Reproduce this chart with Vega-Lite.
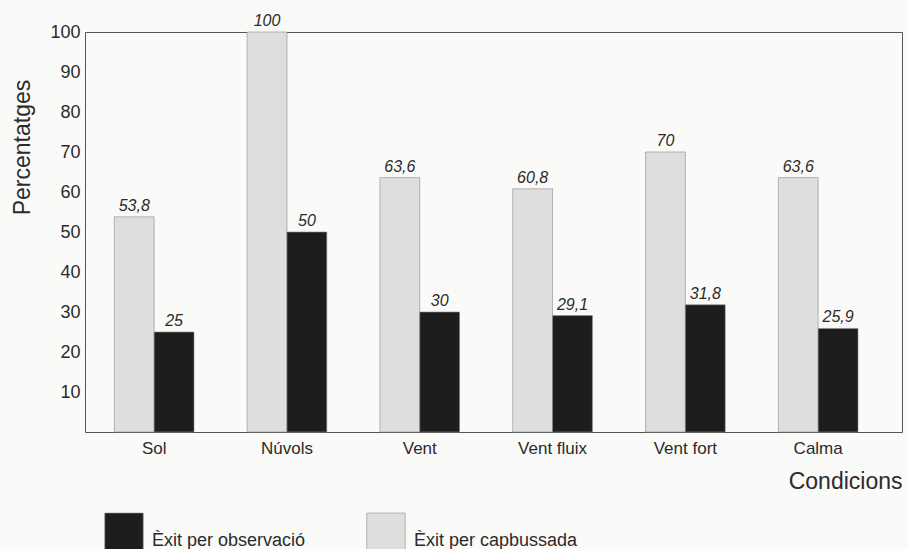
{
  "$schema": "https://vega.github.io/schema/vega-lite/v6.json",
  "width": 817,
  "height": 400,
  "autosize": {"type": "none"},
  "padding": {"left": 85, "top": 32, "right": 6, "bottom": 117},
  "background": "#fafaf8",
  "config": {
    "locale": {"number": {"decimal": ",", "thousands": ".", "grouping": [3], "currency": ["", " €"]}},
    "view": {"stroke": "#555555", "strokeWidth": 1},
    "font": "Liberation Sans",
    "axis": {"grid": false, "ticks": false, "domain": false, "labelColor": "#2b2b2b", "titleColor": "#2b2b2b", "titleFontWeight": "normal"}
  },
  "data": {
    "values": [
      {"condicio": "Sol", "serie": "Èxit per capbussada", "percentatge": 53.8},
      {"condicio": "Sol", "serie": "Èxit per observació", "percentatge": 25},
      {"condicio": "Núvols", "serie": "Èxit per capbussada", "percentatge": 100},
      {"condicio": "Núvols", "serie": "Èxit per observació", "percentatge": 50},
      {"condicio": "Vent", "serie": "Èxit per capbussada", "percentatge": 63.6},
      {"condicio": "Vent", "serie": "Èxit per observació", "percentatge": 30},
      {"condicio": "Vent fluix", "serie": "Èxit per capbussada", "percentatge": 60.8},
      {"condicio": "Vent fluix", "serie": "Èxit per observació", "percentatge": 29.1},
      {"condicio": "Vent fort", "serie": "Èxit per capbussada", "percentatge": 70},
      {"condicio": "Vent fort", "serie": "Èxit per observació", "percentatge": 31.8},
      {"condicio": "Calma", "serie": "Èxit per capbussada", "percentatge": 63.6},
      {"condicio": "Calma", "serie": "Èxit per observació", "percentatge": 25.9}
    ]
  },
  "encoding": {
    "x": {
      "field": "condicio",
      "type": "nominal",
      "sort": null,
      "scale": {"paddingInner": 0.4, "paddingOuter": 0.276, "align": 0.4},
      "axis": {
        "labelAngle": 0,
        "labelFontSize": 17,
        "labelPadding": 8,
        "title": "Condicions",
        "titleFontSize": 23,
        "titleAnchor": "end",
        "titleY": 56,
        "titleBaseline": "alphabetic"
      }
    },
    "xOffset": {
      "field": "serie",
      "type": "nominal",
      "scale": {"domain": ["Èxit per capbussada", "Èxit per observació"], "paddingInner": 0, "paddingOuter": 0}
    },
    "y": {
      "field": "percentatge",
      "type": "quantitative",
      "scale": {"domain": [0, 100]},
      "axis": {
        "values": [10, 20, 30, 40, 50, 60, 70, 80, 90, 100],
        "labelFontSize": 18,
        "labelPadding": 5,
        "title": "Percentatges",
        "titleFontSize": 23,
        "titleAngle": 270,
        "titleX": -63,
        "titleY": 115,
        "titleAlign": "center",
        "titleBaseline": "middle"
      }
    }
  },
  "layer": [
    {
      "mark": {"type": "bar", "stroke": "#8c8c8c", "strokeWidth": 0.6},
      "encoding": {
        "color": {
          "field": "serie",
          "type": "nominal",
          "scale": {"domain": ["Èxit per observació", "Èxit per capbussada"], "range": ["#1d1d1d", "#dedede"]},
          "legend": {
            "orient": "none",
            "legendX": 19,
            "legendY": 480,
            "direction": "horizontal",
            "title": null,
            "symbolType": "square",
            "symbolSize": 1480,
            "symbolStrokeColor": "#8c8c8c",
            "symbolStrokeWidth": 0.6,
            "labelFontSize": 18,
            "labelColor": "#2b2b2b",
            "labelOffset": 8,
            "labelBaseline": "top",
            "labelLimit": 400,
            "columnPadding": 59,
            "padding": 0
          }
        }
      }
    },
    {
      "mark": {"type": "text", "fontStyle": "italic", "fontSize": 16, "dy": -6, "baseline": "alphabetic", "color": "#2b2b2b"},
      "encoding": {
        "text": {"field": "percentatge", "type": "quantitative", "format": ".1~f"}
      }
    }
  ]
}
